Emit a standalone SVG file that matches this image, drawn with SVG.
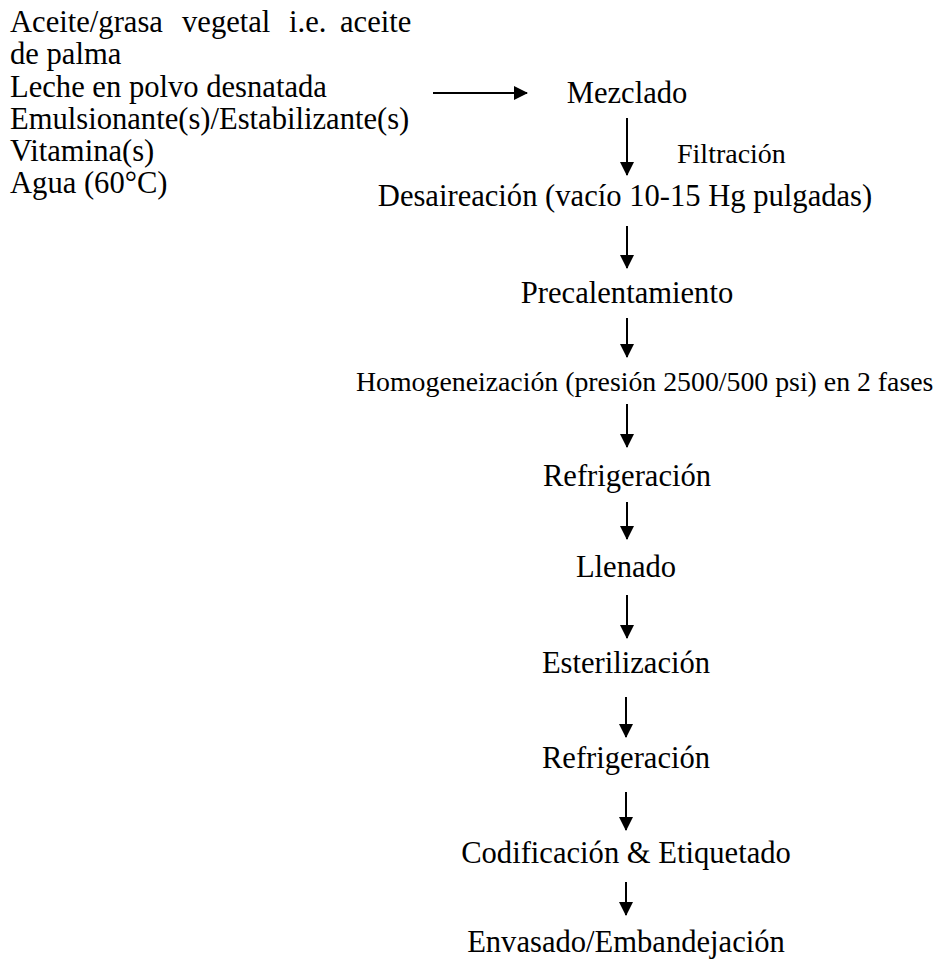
<svg xmlns="http://www.w3.org/2000/svg" width="943" height="960" viewBox="0 0 943 960">
<defs>
<style>
text{font-family:"Liberation Serif","Times New Roman",serif;font-size:30.6px;fill:#000}
.c{text-anchor:middle}
.s{font-size:28px}
.h{font-size:27.8px}
.ln{stroke:#000;stroke-width:2;fill:none}
</style>
<marker id="ah" markerWidth="14" markerHeight="14" refX="13" refY="7" orient="auto" markerUnits="userSpaceOnUse">
<path d="M0,0 L14,7 L0,14 Z" fill="#000"/>
</marker>
</defs>
<rect width="943" height="960" fill="#fff"/>
<g id="ingredientes">
<text y="32"><tspan x="10">Aceite/grasa</tspan><tspan x="182">vegetal</tspan><tspan x="289">i.e.</tspan><tspan x="340">aceite</tspan></text>
<text x="10" y="64">de palma</text>
<text x="10" y="97">Leche en polvo desnatada</text>
<text x="10" y="129">Emulsionante(s)/Estabilizante(s)</text>
<text x="10" y="161">Vitamina(s)</text>
<text x="10" y="193">Agua (60°C)</text>
</g>
<g id="mezclado"><text class="c" x="627" y="103">Mezclado</text></g>
<g id="filtracion"><text class="s" x="677" y="163">Filtración</text></g>
<g id="desaireacion"><text class="c" x="625" y="206">Desaireación (vacío 10-15 Hg pulgadas)</text></g>
<g id="precalentamiento"><text class="c" x="627" y="303">Precalentamiento</text></g>
<g id="homogeneizacion"><text class="h" x="356" y="391">Homogeneización (presión 2500/500 psi) en 2 fases</text></g>
<g id="refrigeracion1"><text class="c" x="627" y="486">Refrigeración</text></g>
<g id="llenado"><text class="c" x="626" y="577">Llenado</text></g>
<g id="esterilizacion"><text class="c" x="626" y="673">Esterilización</text></g>
<g id="refrigeracion2"><text class="c" x="626" y="768">Refrigeración</text></g>
<g id="codificacion"><text class="c" x="626" y="863">Codificación &amp; Etiquetado</text></g>
<g id="envasado"><text class="c" x="626" y="952">Envasado/Embandejación</text></g>
<g id="conectores" class="ln">
<line x1="433" y1="93" x2="527" y2="93" marker-end="url(#ah)"/>
<line x1="627" y1="118" x2="627" y2="175" marker-end="url(#ah)"/>
<line x1="627" y1="226" x2="627" y2="268" marker-end="url(#ah)"/>
<line x1="627" y1="318" x2="627" y2="357" marker-end="url(#ah)"/>
<line x1="627" y1="404" x2="627" y2="447" marker-end="url(#ah)"/>
<line x1="627" y1="502" x2="627" y2="539" marker-end="url(#ah)"/>
<line x1="627" y1="595" x2="627" y2="638" marker-end="url(#ah)"/>
<line x1="626" y1="697" x2="626" y2="737" marker-end="url(#ah)"/>
<line x1="626" y1="792" x2="626" y2="830" marker-end="url(#ah)"/>
<line x1="626" y1="882" x2="626" y2="915" marker-end="url(#ah)"/>
</g>
</svg>
